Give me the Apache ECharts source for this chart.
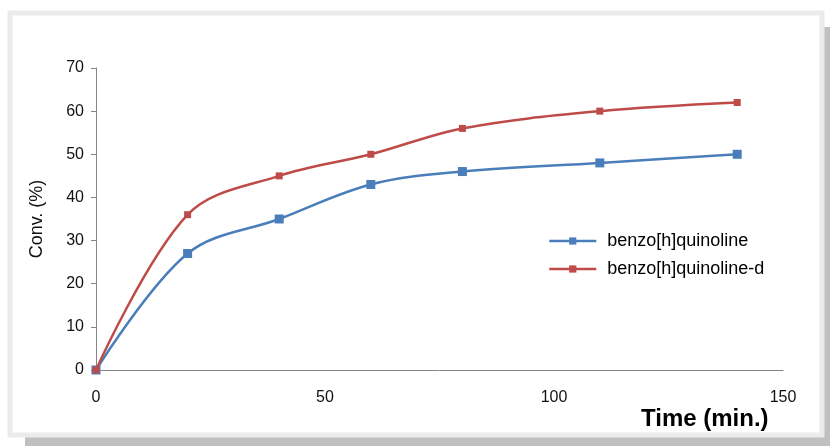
<!DOCTYPE html>
<html>
<head>
<meta charset="utf-8">
<script src="https://cdn.jsdelivr.net/npm/echarts@6/dist/echarts.min.js"></script>
<style>
  html, body { margin: 0; padding: 0; background: #ffffff; }
  #chart { width: 830px; height: 446px; }
</style>
</head>
<body>
<div id="chart"></div>
<script>
// Reaction time points (min.)
const timeMin = [0, 20, 40, 60, 80, 110, 140];
// Conversion (%) for each substrate
const convBenzo = [0, 27, 35, 43, 46, 48, 50];
const convBenzoD = [0, 36, 45, 50, 56, 60, 62];
const seriesNames = ['benzo[h]quinoline', 'benzo[h]quinoline-d'];
const xTicks = [0, 50, 100, 150];
const yTicks = [0, 10, 20, 30, 40, 50, 60, 70];

const pairs = (xs, ys) => xs.map((x, i) => [x, ys[i]]);

const chart = echarts.init(document.getElementById('chart'), null, { renderer: 'canvas' });
const FONT = 'Liberation Sans, Arial, sans-serif';

chart.setOption({
  animation: false,
  backgroundColor: '#ffffff',
  graphic: [
    // drop shadow behind the frame
    { type: 'rect', z: -10, silent: true,
      shape: { x: 25, y: 27, width: 805, height: 419 },
      style: { fill: '#c0c0c0' } },
    // chart frame
    { type: 'rect', z: -9, silent: true,
      shape: { x: 10, y: 13, width: 812, height: 422 },
      style: { fill: '#ffffff', stroke: '#ebebeb', lineWidth: 5 } }
  ],
  title: [
    { text: 'Time (min.)', left: 641, top: 407,
      textStyle: { fontFamily: FONT, fontSize: 24, fontWeight: 'bold', color: '#000' }, padding: 0 }
  ],
  grid: { left: 96, right: 47, top: 68, bottom: 76, containLabel: false },
  legend: {
    orient: 'vertical', left: 543, top: 227, itemGap: 10,
    itemWidth: 47, itemHeight: 9,
    data: seriesNames,
    lineStyle: { width: 2.5 },
    textStyle: { fontFamily: FONT, fontSize: 18, color: '#000', padding: [0, 0, 0, 6] }
  },
  xAxis: {
    type: 'value', min: 0, max: 150, interval: 50,
    axisLine: { lineStyle: { color: '#868686', width: 1 } },
    axisTick: { show: false },
    splitLine: { show: false },
    axisLabel: { margin: 20, fontFamily: FONT, fontSize: 16, color: '#111',
      formatter: v => xTicks.includes(v) ? String(v) : '' }
  },
  yAxis: {
    type: 'value', min: 0, max: 70, interval: 10,
    name: 'Conv. (%)', nameLocation: 'middle', nameGap: 50, nameRotate: 90,
    nameTextStyle: { fontFamily: FONT, fontSize: 18, color: '#111' },
    axisLine: { show: true, lineStyle: { color: '#868686', width: 1 } },
    axisTick: { show: true, inside: false, length: 5, lineStyle: { color: '#868686' } },
    splitLine: { show: false },
    axisLabel: { margin: 12, fontFamily: FONT, fontSize: 16, color: '#111',
      formatter: v => yTicks.includes(v) ? String(v) : '' }
  },
  series: [
    { name: seriesNames[0], type: 'line', smooth: 0.35,
      data: pairs(timeMin, convBenzo),
      symbol: 'rect', symbolSize: 9,
      lineStyle: { color: '#4a7ebb', width: 2.5 },
      itemStyle: { color: '#4a7ebb' }, z: 3 },
    { name: seriesNames[1], type: 'line', smooth: 0.35,
      data: pairs(timeMin, convBenzoD),
      symbol: 'rect', symbolSize: 7,
      lineStyle: { color: '#be4b48', width: 2.5 },
      itemStyle: { color: '#be4b48' }, z: 4 }
  ]
});
</script>
</body>
</html>
